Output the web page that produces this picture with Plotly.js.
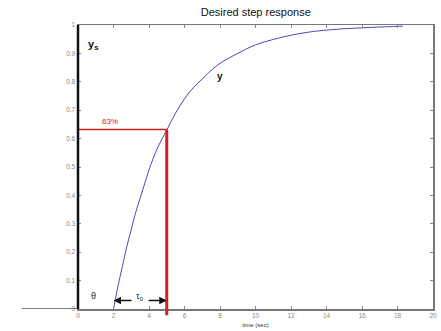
<!DOCTYPE html>
<html><head><meta charset="utf-8">
<script src="https://cdn.plot.ly/plotly-3.0.1.min.js"></script>
<style>html,body{margin:0;padding:0;background:#fff}#c{width:441px;height:331px}</style>
</head><body><div id="c"></div>
<script>
// Step response
const timeSec = [2, 2.25, 2.5, 2.75, 3, 3.25, 3.5, 3.75, 4, 4.5, 5, 5.5, 6, 6.5, 7, 7.5, 8, 9, 10, 11, 12, 13, 14, 15, 16, 17, 18, 18.3];
const response = [0, 0.08, 0.15, 0.22, 0.28, 0.34, 0.39, 0.44, 0.49, 0.57, 0.63, 0.69, 0.74, 0.78, 0.81, 0.84, 0.865, 0.90, 0.93, 0.949, 0.964, 0.975, 0.982, 0.987, 0.99, 0.993, 0.995, 0.996];
// 63% marker
const markX = [0, 5, 5];
const markY = [0.632, 0.632, -0.02];
const deadTime = 2;      // theta
const timeConst = 5;     // end of tau
const xTicks = [0, 2, 4, 6, 8, 10, 12, 14, 16, 18, 20];
const yTicks = [0, 0.1, 0.2, 0.3, 0.4, 0.5, 0.6, 0.7, 0.8, 0.9, 1];

const font = "Liberation Sans, Arial, sans-serif";
const traces = [
  {x: timeSec, y: response, mode: 'lines', line: {color: '#4a4ab8', width: 1, shape: 'spline', smoothing: 1}, hoverinfo: 'skip'},
  {x: markX.slice(0, 2), y: markY.slice(0, 2), mode: 'lines', line: {color: '#d42020', width: 1.5}, hoverinfo: 'skip'}
];
const layout = {
  width: 441, height: 331,
  margin: {l: 78, r: 8, t: 25, b: 22},
  paper_bgcolor: '#fff', plot_bgcolor: '#fff',
  showlegend: false,
  title: {text: 'Desired step response', font: {family: font, size: 11, color: '#111'}, x: 0.58, xanchor: 'center', y: 0.975, yanchor: 'top'},
  xaxis: {range: [0, 20], tickvals: xTicks, ticks: 'inside', ticklen: 3, tickcolor: '#888',
    showgrid: false, zeroline: false, showline: true, linecolor: '#777', linewidth: 1.5, mirror: 'ticks',
    tickfont: {family: font, size: 6.5, color: '#888'},
    title: {text: 'time (sec)', font: {family: font, size: 6, color: '#333'}, standoff: 4}},
  yaxis: {range: [0, 1], tickvals: yTicks, ticks: 'inside', ticklen: 3, tickcolor: '#888',
    showgrid: false, zeroline: false, showline: true, linecolor: '#777', linewidth: 1.5, mirror: 'ticks',
    tickfont: {family: font, size: 6.5, color: '#888'}},
  shapes: [
    {type: 'line', xref: 'paper', yref: 'y', x0: -0.158, x1: 0, y0: 0, y1: 0, line: {color: '#555', width: 1.5}},
    {type: 'line', xref: 'paper', yref: 'paper', x0: 0, x1: 0, y0: 0, y1: 1, line: {color: '#111', width: 2.5}},
    {type: 'line', xref: 'x', yref: 'paper', x0: markX[1], x1: markX[2], y0: 0.632, y1: -0.022, line: {color: '#d42020', width: 3}}
  ],
  annotations: [
    {x: 1.8, y: 0.66, text: '63%', showarrow: false, font: {family: font, size: 8, color: '#d42020'}},
    {x: 0.85, y: 0.045, text: 'θ', showarrow: false, font: {family: font, size: 9, color: '#222'}},
    {x: 3.5, y: 0.045, text: 'τ<sub>o</sub>', showarrow: false, font: {family: font, size: 9, color: '#222'}},
    {x: deadTime, y: 0.03, ax: 3.1, ay: 0.03, axref: 'x', ayref: 'y', text: '', showarrow: true, arrowhead: 2, arrowsize: 1, arrowwidth: 1.5, arrowcolor: '#111'},
    {x: timeConst, y: 0.03, ax: 3.9, ay: 0.03, axref: 'x', ayref: 'y', text: '', showarrow: true, arrowhead: 2, arrowsize: 1, arrowwidth: 1.5, arrowcolor: '#111'},
    {x: 0.85, y: 0.93, text: '<b>y</b><sub><b>s</b></sub>', showarrow: false, font: {family: font, size: 11, color: '#111'}},
    {x: 8.0, y: 0.82, text: '<b>y</b>', showarrow: false, font: {family: font, size: 10, color: '#111'}}
  ]
};
Plotly.newPlot('c', traces, layout, {staticPlot: true, displayModeBar: false});
</script></body></html>
